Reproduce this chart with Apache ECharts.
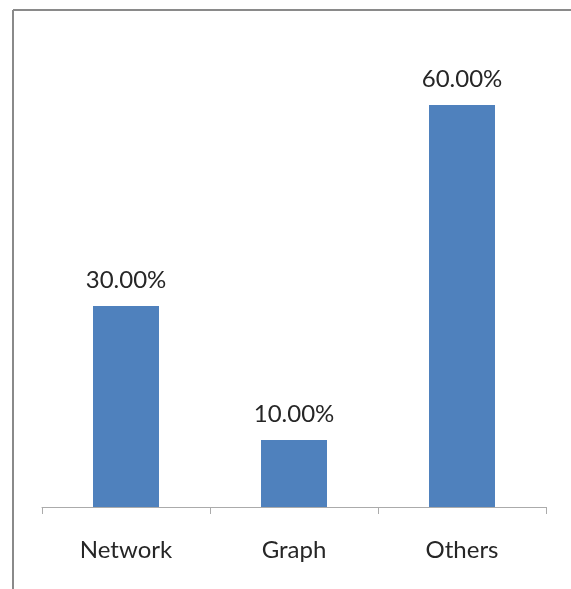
<!DOCTYPE html>
<html>
<head>
<meta charset="utf-8">
<script src="https://cdn.jsdelivr.net/npm/echarts@6/dist/echarts.min.js"></script>
<style>
  html, body { margin: 0; padding: 0; background: #fff; }
  #chart { width: 571px; height: 589px; }
</style>
</head>
<body>
<div id="chart"></div>
<script>
// Share of items per category, in percent
const categories = ['Network', 'Graph', 'Others'];
const shares = [30, 10, 60];

const chart = echarts.init(document.getElementById('chart'), null, { renderer: 'canvas' });

const textFont = 'Lato, "Open Sans", sans-serif';

chart.setOption({
  animation: false,
  backgroundColor: '#ffffff',
  graphic: [
    { type: 'line', shape: { x1: 13, y1: 10, x2: 571, y2: 10 }, style: { stroke: '#8a8a8a', lineWidth: 2 } },
    { type: 'line', shape: { x1: 13, y1: 10, x2: 13, y2: 589 }, style: { stroke: '#8a8a8a', lineWidth: 2 } }
  ],
  grid: { left: 42, right: 25, top: 38, bottom: 82, containLabel: false },
  xAxis: {
    type: 'category',
    data: categories,
    axisLine: { lineStyle: { color: '#ababab', width: 1 } },
    axisTick: { show: true, length: 7, alignWithLabel: false, lineStyle: { color: '#ababab' } },
    axisLabel: { color: '#262626', fontSize: 24, fontFamily: textFont, margin: 31 }
  },
  yAxis: {
    type: 'value',
    min: 0,
    max: 70,
    show: false,
    splitLine: { show: false }
  },
  series: [{
    type: 'bar',
    data: shares,
    barWidth: 66,
    itemStyle: { color: '#4f81bd' },
    label: {
      show: true,
      position: 'top',
      distance: 14,
      color: '#262626',
      fontSize: 24,
      fontFamily: textFont,
      formatter: p => p.value.toFixed(2) + '%'
    }
  }]
});
</script>
</body>
</html>
